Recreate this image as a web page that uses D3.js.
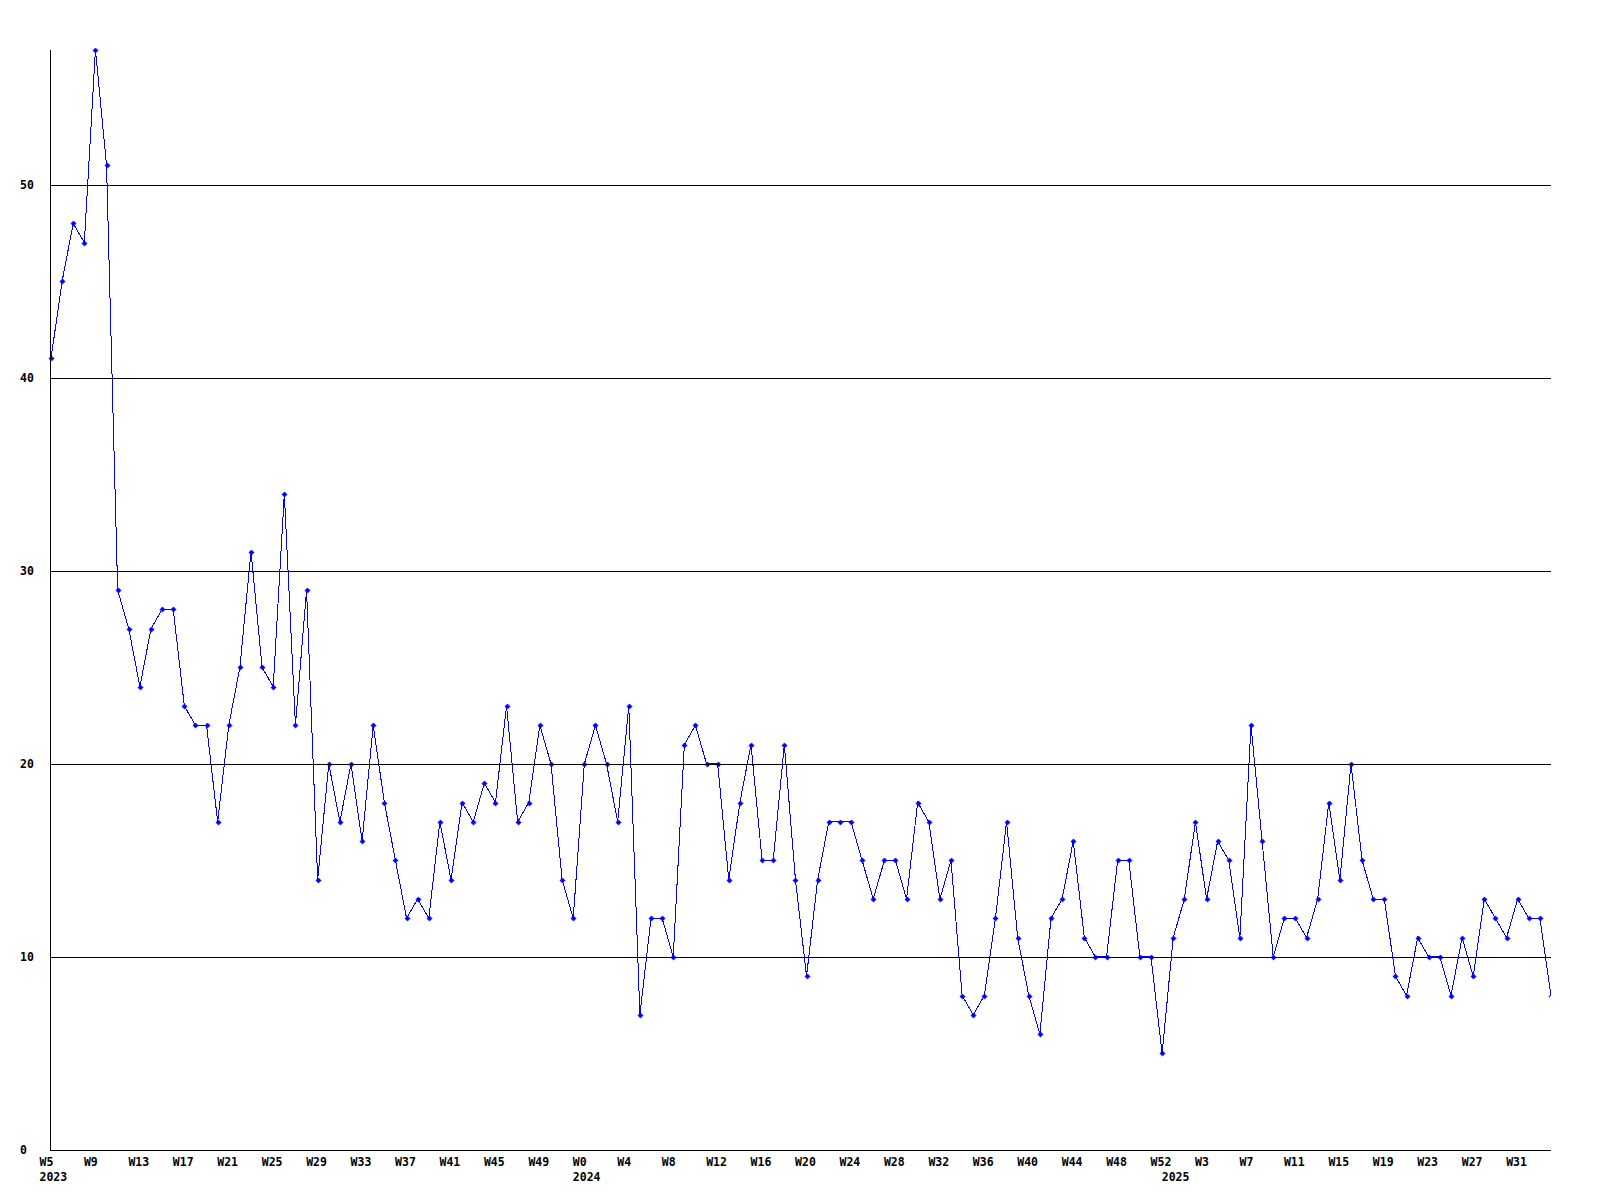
<!DOCTYPE html>
<html>
<head>
<meta charset="utf-8">
<script src="https://cdn.jsdelivr.net/npm/d3@7"></script>
<style>
  html, body { margin: 0; padding: 0; background: #fff; }
  svg { display: block; }
  text { font-family: "DejaVu Sans Mono", monospace; font-weight: bold; font-size: 11.5px; fill: #000; }
</style>
</head>
<body>
<svg id="chart" width="1600" height="1200"></svg>
<script>
// ---- data ----
const years = ["2023", "2024", "2025"];
const firstWeek = [5, 0, 0];
const lastWeek = [52, 52, 34];
const values = [
  41, 45, 48, 47, 57, 51, 29, 27, 24, 27, 28, 28, 23, 22, 22, 17, 22, 25, 31, 25,
  24, 34, 22, 29, 14, 20, 17, 20, 16, 22, 18, 15, 12, 13, 12, 17, 14, 18, 17, 19,
  18, 23, 17, 18, 22, 20, 14, 12, 20, 22, 20, 17, 23, 7, 12, 12, 10, 21, 22, 20,
  20, 14, 18, 21, 15, 15, 21, 14, 9, 14, 17, 17, 17, 15, 13, 15, 15, 13, 18, 17,
  13, 15, 8, 7, 8, 12, 17, 11, 8, 6, 12, 13, 16, 11, 10, 10, 15, 15, 10, 10,
  5, 11, 13, 17, 13, 16, 15, 11, 22, 16, 10, 12, 12, 11, 13, 18, 14, 20, 15, 13,
  13, 9, 8, 11, 10, 10, 8, 11, 9, 13, 12, 11, 13, 12, 12, 8
];
const yTicks = [0, 10, 20, 30, 40, 50];
const yMax = 57;
const labelEvery = 4;

// categories: one week label per point, with year start markers
const categories = [];
years.forEach((yr, k) => {
  for (let w = firstWeek[k]; w <= lastWeek[k]; w++) {
    categories.push({ week: "W" + w, year: yr, yearStart: w === firstWeek[k] });
  }
});

// ---- layout ----
const plotLeft = 50, plotRight = 1551, plotTop = 49.6, plotBottom = 1150;
const svg = d3.select("#chart");
svg.append("rect").attr("width", 1600).attr("height", 1200).attr("fill", "#fff");

const x = d3.scaleLinear().domain([0, values.length - 1]).range([plotLeft + 1, plotRight]);
const y = d3.scaleLinear().domain([0, yMax]).range([plotBottom, plotTop]);

// data line
const line = d3.line().x((d, i) => x(i)).y(d => y(d));
svg.append("path")
  .datum(values)
  .attr("d", line)
  .attr("fill", "none")
  .attr("stroke", "#0000ff")
  .attr("stroke-width", 1)
  .attr("shape-rendering", "crispEdges");

// markers (clipped at the right edge)
svg.append("clipPath").attr("id", "mclip")
  .append("rect").attr("x", 0).attr("y", 0).attr("width", x(values.length - 1) - 1).attr("height", 1200);
svg.append("g").attr("clip-path", "url(#mclip)")
  .selectAll("path.m")
  .data(values)
  .join("path")
  .attr("class", "m")
  .attr("d", (d, i) => {
    const cx = Math.round(x(i)) + 0.5, cy = Math.round(y(d)) + 0.5, r = 2.6;
    return `M${cx - r},${cy}L${cx},${cy - r}L${cx + r},${cy}L${cx},${cy + r}Z`;
  })
  .attr("fill", "#0000ff")
  .attr("stroke", "#0000ff")
  .attr("stroke-width", 0.6);

// gridlines drawn on top
svg.append("g").selectAll("line.g")
  .data(yTicks.filter(t => t > 0))
  .join("line")
  .attr("x1", plotLeft).attr("x2", plotRight)
  .attr("y1", d => Math.round(y(d)) + 0.5).attr("y2", d => Math.round(y(d)) + 0.5)
  .attr("stroke", "#000").attr("stroke-width", 1)
  .attr("shape-rendering", "crispEdges");

// axes
svg.append("line").attr("x1", plotLeft + 0.5).attr("x2", plotLeft + 0.5).attr("y1", Math.round(plotTop)).attr("y2", plotBottom + 0.5)
  .attr("stroke", "#000").attr("shape-rendering", "crispEdges");
svg.append("line").attr("x1", plotLeft).attr("x2", plotRight).attr("y1", plotBottom + 0.5).attr("y2", plotBottom + 0.5)
  .attr("stroke", "#000").attr("shape-rendering", "crispEdges");

// y labels
svg.append("g").selectAll("text")
  .data(yTicks)
  .join("text")
  .attr("x", 20)
  .attr("y", d => y(d) + 4)
  .text(d => d);

// x labels: week every 4th point, year at each year's first point
const xl = svg.append("g");
const indexed = categories.map((c, i) => ({ c, i }));
xl.selectAll("text.w")
  .data(indexed.filter(o => o.i % labelEvery === 0))
  .join("text")
  .attr("class", "w")
  .attr("x", o => x(o.i) - 11.5)
  .attr("y", 1165.5)
  .text(o => o.c.week);
xl.selectAll("text.y")
  .data(indexed.filter(o => o.c.yearStart))
  .join("text")
  .attr("class", "y")
  .attr("x", o => x(o.i) - 11.5)
  .attr("y", 1181)
  .text(o => o.c.year);
</script>
</body>
</html>
